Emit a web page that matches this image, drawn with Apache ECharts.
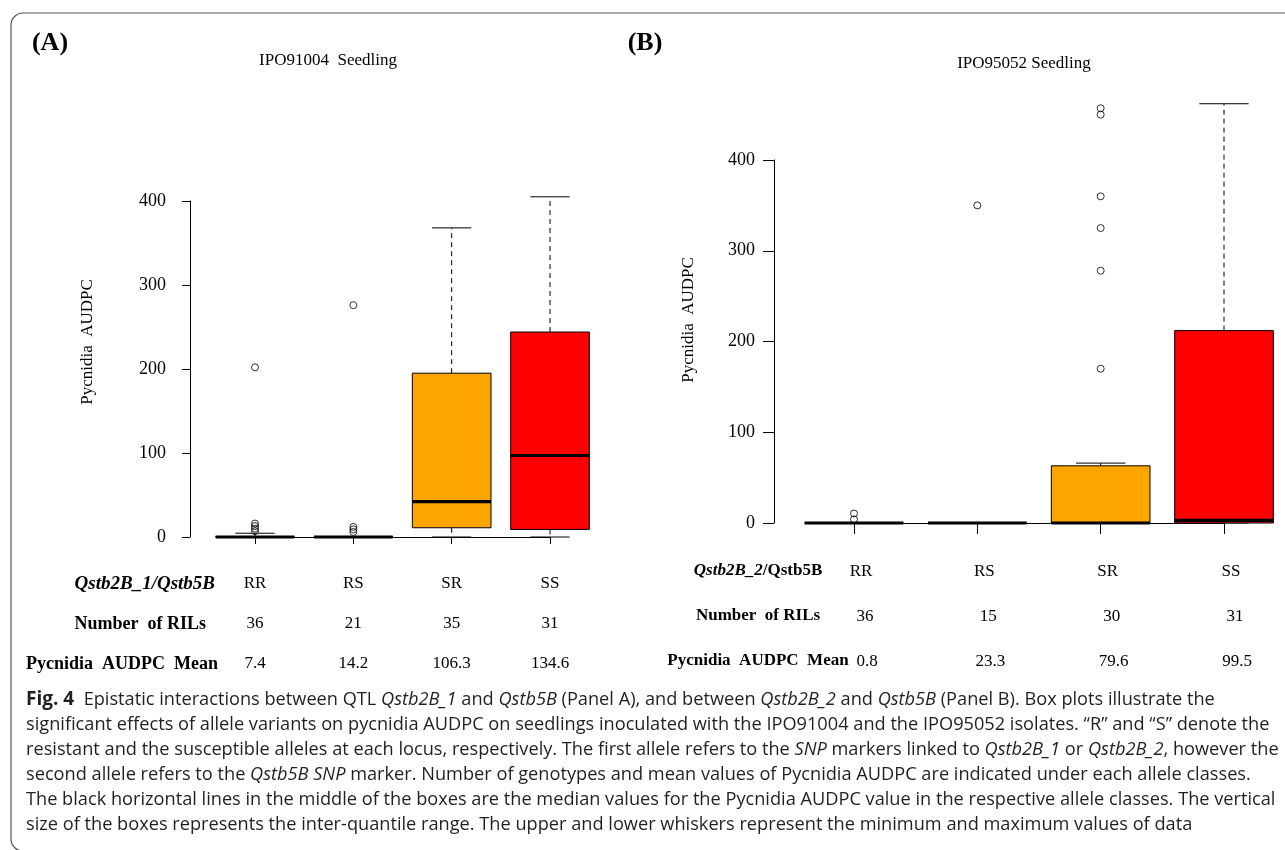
<!DOCTYPE html>
<html>
<head>
<meta charset="utf-8">
<script src="https://cdn.jsdelivr.net/npm/echarts@6.0.0/dist/echarts.min.js"></script>
<style>
  html, body { margin: 0; padding: 0; background: #fff; }
  #chart { width: 1285px; height: 850px; }
</style>
</head>
<body>
<div id="chart"></div>
<script>
// allele classes
var categories = ['RR', 'RS', 'SR', 'SS'];

// panel A : IPO91004 seedling  [min, Q1, median, Q3, max]
var boxA = [
	[0, 0, 0, 0.5, 4.5],
	[0, 0, 0, 0.5, 0.5],
	[0, 11, 42, 195, 368],
	[0, 9, 97, 244, 405]
];
var outliersA = [[7, 10, 13, 16, 202], [6, 9, 12, 276], [], []];
var countsA = [36, 21, 35, 31];
var meansA = [7.4, 14.2, 106.3, 134.6];

// panel B : IPO95052 seedling
var boxB = [
	[0, 0, 0, 0, 0],
	[0, 0, 0, 0, 0],
	[0, 0, 0, 63, 66],
	[0, 0, 3, 212, 462]
];
var outliersB = [[4, 10.5], [350], [170, 278, 325, 360, 450, 457], []];
var countsB = [36, 15, 30, 31];
var meansB = [0.8, 23.3, 79.6, 99.5];

var yTicks = { min: 0, max: 400, interval: 100 };

var SERIF = '"Liberation Serif", "Times New Roman", serif';
var SANS = '"Open Sans", "Noto Sans", sans-serif';
var FILLS = ['#ffffff', '#ffffff', '#ffa500', '#ff0000'];

function boxData(list) {
	return list.map(function (b, i) { return [i].concat(b); });
}
function outlierData(list) {
	var pts = [];
	list.forEach(function (vals, i) {
		vals.forEach(function (v) { pts.push([i, v]); });
	});
	return pts;
}

// R style box: solid box, thick median, dashed whiskers, solid staples
function renderBox(params, api) {
	var i = api.value(0);
	var lo = api.coord([i, api.value(1)]);
	var q1 = api.coord([i, api.value(2)]);
	var md = api.coord([i, api.value(3)]);
	var q3 = api.coord([i, api.value(4)]);
	var hi = api.coord([i, api.value(5)]);
	var w = api.size([1, 0])[0] * 0.8;
	var cx = md[0];
	var dash = { stroke: '#000', lineWidth: 1, lineDash: [5, 4], fill: null };
	var solid = { stroke: '#000', lineWidth: 1, fill: null };
	return {
		type: 'group',
		children: [
			{ type: 'line', shape: { x1: cx, y1: q3[1], x2: cx, y2: hi[1] }, style: dash },
			{ type: 'line', shape: { x1: cx, y1: q1[1], x2: cx, y2: lo[1] }, style: dash },
			{ type: 'line', shape: { x1: cx - w / 4, y1: hi[1], x2: cx + w / 4, y2: hi[1] }, style: solid },
			{ type: 'line', shape: { x1: cx - w / 4, y1: lo[1], x2: cx + w / 4, y2: lo[1] }, style: solid },
			{ type: 'rect', shape: { x: cx - w / 2, y: q3[1], width: w, height: q1[1] - q3[1] },
				style: { fill: FILLS[params.dataIndex], stroke: '#000', lineWidth: 1 } },
			{ type: 'line', shape: { x1: cx - w / 2, y1: md[1], x2: cx + w / 2, y2: md[1] },
				style: { stroke: '#000', lineWidth: 3.2 } }
		]
	};
}

function yAxisOf(grid, offset, tickLen, margin) {
	return {
		gridIndex: grid, type: 'value', min: yTicks.min, max: yTicks.max, interval: yTicks.interval,
		offset: offset,
		axisLine: { show: true, lineStyle: { color: '#000', width: 1 } },
		axisTick: { show: true, length: tickLen, lineStyle: { color: '#000' } },
		axisLabel: { color: '#000', fontFamily: SERIF, fontSize: 18, margin: margin },
		splitLine: { show: false }
	};
}

function xAxisOf(grid, offset, tickLen, margin, counts, means, lh, pads) {
	var st = function (h, p) {
		return { fontFamily: SERIF, fontSize: 17, color: '#000', lineHeight: h, padding: [0, 0, 0, p] };
	};
	return {
		gridIndex: grid, type: 'category', data: categories, boundaryGap: false,
		offset: offset,
		axisLine: { show: true, lineStyle: { color: '#000', width: 1 } },
		axisTick: { show: true, length: tickLen, lineStyle: { color: '#000' } },
		axisLabel: {
			interval: 0, margin: margin,
			formatter: function (v, i) {
				return '{a|' + v + '}\n{b|' + counts[i] + '}\n{c|' + means[i].toFixed(1) + '}';
			},
			rich: { a: st(lh[0], pads[0]), b: st(lh[1], pads[1]), c: st(lh[2], pads[2]) }
		},
		splitLine: { show: false }
	};
}

function txt(x, y, text, font, align, extra) {
	var el = {
		type: 'text', x: x, y: y, silent: true,
		style: {
			text: text, font: font, fill: '#000',
			textAlign: align, align: align,
			textVerticalAlign: 'middle', verticalAlign: 'middle'
		}
	};
	if (extra) {
		for (var k in extra) el[k] = extra[k];
	}
	return el;
}

var it = { fontFamily: SANS, fontSize: 18.2, fontStyle: 'italic', fill: '#231f20' };
var capFont = '18.2px ' + SANS;
var captionLines = [
	'{f|Fig. 4}  Epistatic interactions between QTL {i|Qstb2B_1} and {i|Qstb5B} (Panel A), and between {i|Qstb2B_2} and {i|Qstb5B} (Panel B). Box plots illustrate the',
	'significant effects of allele variants on pycnidia AUDPC on seedlings inoculated with the IPO91004 and the IPO95052 isolates. \u201cR\u201d and \u201cS\u201d denote the',
	'resistant and the susceptible alleles at each locus, respectively. The first allele refers to the {i|SNP} markers linked to {i|Qstb2B_1} or {i|Qstb2B_2}, however the',
	'second allele refers to the {i|Qstb5B SNP} marker. Number of genotypes and mean values of Pycnidia AUDPC are indicated under each allele classes.',
	'The black horizontal lines in the middle of the boxes are the median values for the Pycnidia AUDPC value in the respective allele classes. The vertical',
	'size of the boxes represents the inter-quantile range. The upper and lower whiskers represent the minimum and maximum values of data'
];

var graphics = [
	{ type: 'rect', silent: true, z: -1,
		shape: { x: 11, y: 13, width: 1300, height: 838, r: [12, 0, 0, 12] },
		style: { fill: null, stroke: '#555', lineWidth: 1.2 } },
	txt(50, 43, '(A)', 'bold 26px ' + SERIF, 'center'),
	txt(645, 43, '(B)', 'bold 26px ' + SERIF, 'center'),
	txt(328, 61, 'IPO91004  Seedling', '17px ' + SERIF, 'center'),
	txt(1024, 64, 'IPO95052 Seedling', '17px ' + SERIF, 'center'),
	txt(88, 342, 'Pycnidia  AUDPC', '17px ' + SERIF, 'center', { rotation: Math.PI / 2 }),
	txt(689, 320, 'Pycnidia  AUDPC', '17px ' + SERIF, 'center', { rotation: Math.PI / 2 }),
	txt(215, 584, 'Qstb2B_1/Qstb5B', 'italic bold 19px ' + SERIF, 'right'),
	txt(206, 624, 'Number  of RILs', 'bold 18px ' + SERIF, 'right'),
	txt(218, 664, 'Pycnidia  AUDPC  Mean', 'bold 18px ' + SERIF, 'right'),
	txt(758, 571, '{i|Qstb2B_2}/Qstb5B', 'bold 17px ' + SERIF, 'center'),
	txt(758, 616, 'Number  of RILs', 'bold 17px ' + SERIF, 'center'),
	txt(758, 661, 'Pycnidia  AUDPC  Mean', 'bold 17px ' + SERIF, 'center')
];
graphics[10].style.rich = { i: { fontFamily: SERIF, fontSize: 17, fontWeight: 'bold', fontStyle: 'italic', fill: '#000' } };

captionLines.forEach(function (line, k) {
	var el = txt(26, 700 + k * 25, line, capFont, 'left');
	el.style.fill = '#231f20';
	el.style.rich = {
		i: it,
		f: { fontFamily: SANS, fontSize: 19, fontWeight: 'bold', fill: '#231f20' }
	};
	graphics.push(el);
});

var chart = echarts.init(document.getElementById('chart'), null, { renderer: 'canvas' });
chart.setOption({
	animation: false,
	backgroundColor: '#fff',
	grid: [
		{ left: 255, right: 735, top: 201, bottom: 313 },
		{ left: 854, right: 61, top: 160, bottom: 327 }
	],
	xAxis: [
		xAxisOf(0, 15, 7, 12, countsA, meansA, [40, 40, 40], [0, 0, 0]),
		xAxisOf(1, 19, 11, 7, countsB, meansB, [45, 45, 45], [14, 22, 26])
	],
	yAxis: [
		yAxisOf(0, 65, 8, 24),
		yAxisOf(1, 80, 11, 19)
	],
	series: [
		{ type: 'custom', name: 'IPO91004', xAxisIndex: 0, yAxisIndex: 0, clip: false,
			renderItem: renderBox, encode: { x: 0, y: [1, 2, 3, 4, 5] }, data: boxData(boxA) },
		{ type: 'scatter', xAxisIndex: 0, yAxisIndex: 0, clip: false, symbol: 'circle', symbolSize: 7,
			itemStyle: { color: 'rgba(0,0,0,0)', borderColor: '#000', borderWidth: 1 },
			data: outlierData(outliersA) },
		{ type: 'custom', name: 'IPO95052', xAxisIndex: 1, yAxisIndex: 1, clip: false,
			renderItem: renderBox, encode: { x: 0, y: [1, 2, 3, 4, 5] }, data: boxData(boxB) },
		{ type: 'scatter', xAxisIndex: 1, yAxisIndex: 1, clip: false, symbol: 'circle', symbolSize: 7,
			itemStyle: { color: 'rgba(0,0,0,0)', borderColor: '#000', borderWidth: 1 },
			data: outlierData(outliersB) }
	],
	graphic: graphics
});
</script>
</body>
</html>
